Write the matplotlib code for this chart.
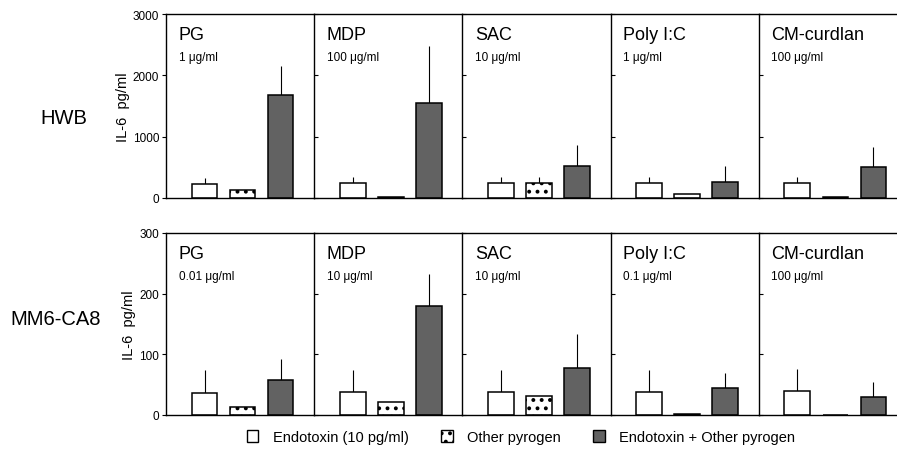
import matplotlib

matplotlib.use("Agg")
import matplotlib.pyplot as plt
from matplotlib.patches import Patch

plt.rcParams["font.family"] = ["Liberation Sans", "DejaVu Sans"]
plt.rcParams["hatch.linewidth"] = 1.6

PYROGENS = ["PG", "MDP", "SAC", "Poly I:C", "CM-curdlan"]
SERIES = ["Endotoxin (10 pg/ml)", "Other pyrogen", "Endotoxin + Other pyrogen"]

# HWB (whole blood)
HWB_CONC = ["1 μg/ml", "100 μg/ml", "10 μg/ml", "1 μg/ml", "100 μg/ml"]
HWB_MEAN = [
    [230, 130, 1680],
    [250, 15, 1550],
    [240, 245, 520],
    [240, 70, 260],
    [240, 20, 500],
]
HWB_SD = [
    [90, 0, 480],
    [90, 0, 930],
    [100, 90, 340],
    [100, 0, 260],
    [100, 0, 330],
]

# MM6-CA8 cell line
MM6_CONC = ["0.01 μg/ml", "10 μg/ml", "10 μg/ml", "0.1 μg/ml", "100 μg/ml"]
MM6_MEAN = [
    [37, 13, 57],
    [38, 22, 180],
    [38, 32, 78],
    [38, 1, 44],
    [40, 0, 29],
]
MM6_SD = [
    [37, 0, 36],
    [37, 0, 53],
    [37, 0, 56],
    [37, 0, 26],
    [36, 0, 26],
]

ROWS = [
    ("HWB", HWB_CONC, HWB_MEAN, HWB_SD, 3000, [0, 1000, 2000, 3000]),
    ("MM6-CA8", MM6_CONC, MM6_MEAN, MM6_SD, 300, [0, 100, 200, 300]),
]

FACES = ["white", "white", "#626262"]
HATCHES = [None, "..", None]

W, H = 897, 456
fig = plt.figure(figsize=(W / 100, H / 100), dpi=100)

x0, pw = 166, 148.2
row_px = [(15, 199), (234, 416)]  # (top, bottom) in pixels
label_xy = [(64, 118), (56, 320)]

for r, (row_name, conc, means, sds, ymax, yticks) in enumerate(ROWS):
    top, bot = row_px[r]
    for p, name in enumerate(PYROGENS):
        ax = fig.add_axes([(x0 + p * pw) / W, 1 - bot / H, pw / W, (bot - top) / H])
        xs = [0.78, 1.55, 2.32]
        for i in range(3):
            ax.bar(xs[i], means[p][i], width=0.52, color=FACES[i],
                   edgecolor="black", linewidth=1.1, hatch=HATCHES[i], zorder=2)
            if sds[p][i] > 0:
                ax.errorbar(xs[i], means[p][i], yerr=[[0], [sds[p][i]]],
                            fmt="none", ecolor="black", elinewidth=0.8,
                            capsize=0, zorder=1)
        ax.set_xlim(0, 3.0)
        ax.set_ylim(0, ymax)
        ax.set_xticks([])
        ax.set_yticks(yticks)
        ax.spines["right"].set_visible(False)
        for s in ax.spines.values():
            s.set_linewidth(1.0)
        if p == 0:
            ax.tick_params(axis="y", direction="out", length=3, labelsize=8.5,
                           pad=2)
            ax.set_ylabel("IL-6  pg/ml", fontsize=10.5, labelpad=2)
            lx, ly = label_xy[r]
            fig.text(lx / W, 1 - ly / H, row_name, fontsize=14.5,
                     ha="center", va="center")
        else:
            ax.tick_params(axis="y", direction="in", length=3, labelleft=False)
        ax.text(0.085, 0.89, name, transform=ax.transAxes, fontsize=13,
                va="center", ha="left")
        ax.text(0.085, 0.765, conc[p], transform=ax.transAxes, fontsize=8.5,
                va="center", ha="left")

handles = [Patch(facecolor=FACES[i], edgecolor="black", hatch=HATCHES[i])
           for i in range(3)]
fig.legend(handles, SERIES, loc="center", bbox_to_anchor=(521 / W, 1 - 438 / H),
           ncol=3, frameon=False, fontsize=10.5, handlelength=0.8,
           handleheight=0.8, columnspacing=2.2, handletextpad=1.0)

fig.savefig("out.png", dpi=100)
